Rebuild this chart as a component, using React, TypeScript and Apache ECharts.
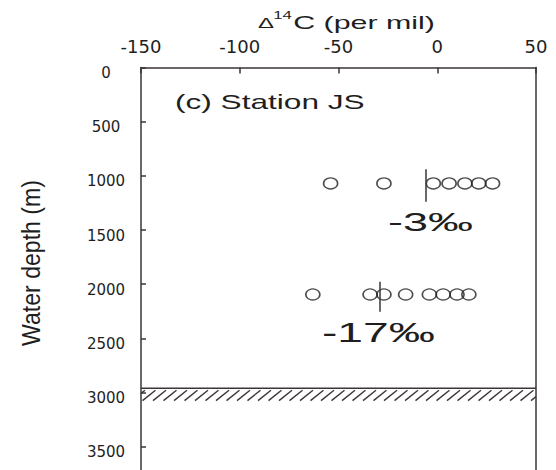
import React, { useEffect, useRef } from "react";
import * as echarts from "echarts";

// Δ14C values (per mil) of the two sampled depths
const row1000Delta = [-54, -27, -2, 6, 14, 21, 28];
const row1000Depth = 1070;
const row2000Delta = [-63, -34, -27, -16, -4, 3, 10, 16];
const row2000Depth = 2095;

// mean markers (vertical bars) and their labels
const meanLineX = [-6, -29];
const meanLineTop = [940, 1978];
const meanLineBottom = [1240, 2255];
const meanLabels = ["-3‰", "-17‰"];

// sea floor band (depth, m)
const seafloorDepth = [2960, 3075];

// axes
const xMin = -150;
const xMax = 50;
const xInterval = 50;
const yMin = 0;
const yMax = 3715;
const yInterval = 500;

const TXT = "#1e1e1e";
const LINE = "#3c3636";
const SANS = "'Liberation Sans', Arial, sans-serif";
const WIDE = "'DejaVu Sans', sans-serif";

export default function App() {
  const ref = useRef<HTMLDivElement>(null);

  useEffect(() => {
    if (!ref.current) return;
    const chart = echarts.init(ref.current, null, { renderer: "svg" });

    const points = [
      ...row1000Delta.map((v) => [v, row1000Depth]),
      ...row2000Delta.map((v) => [v, row2000Depth]),
    ];

    const option: any = {
      animation: false,
      backgroundColor: "#ffffff",
      grid: { left: 141, right: 20, top: 67.5, bottom: 0, containLabel: false },
      xAxis: {
        type: "value",
        position: "top",
        min: xMin,
        max: xMax,
        interval: xInterval,
        splitLine: { show: false },
        axisLine: { show: true, onZero: false, lineStyle: { color: LINE, width: 1.5 } },
        axisTick: { show: true, inside: true, length: 6, lineStyle: { color: LINE, width: 1.5 } },
        axisLabel: { color: TXT, fontFamily: WIDE, fontSize: 18, margin: 12 },
      },
      yAxis: [
        {
          type: "value",
          position: "left",
          inverse: true,
          min: yMin,
          max: yMax,
          interval: yInterval,
          splitLine: { show: false },
          axisLine: { show: true, onZero: false, lineStyle: { color: LINE, width: 1.5 } },
          axisTick: { show: true, inside: true, length: 5, lineStyle: { color: LINE, width: 1.5 } },
          axisLabel: {
            color: TXT,
            fontFamily: WIDE,
            fontSize: 15,
            margin: 35,
            align: "center",
            verticalAlign: "top",
            lineHeight: 11,
            showMaxLabel: false,
            formatter: (v: number) => String(v),
          },
        },
        {
          type: "value",
          position: "right",
          inverse: true,
          min: yMin,
          max: yMax,
          interval: yInterval,
          splitLine: { show: false },
          axisLine: { show: true, onZero: false, lineStyle: { color: LINE, width: 1.5 } },
          axisTick: { show: false },
          axisLabel: { show: false },
        },
      ],
      series: [
        {
          type: "custom",
          coordinateSystem: "cartesian2d",
          silent: true,
          encode: { x: [0, 2], y: [1, 3] },
          data: [[xMin, seafloorDepth[0], xMax, seafloorDepth[1]]],
          renderItem: (params: any, api: any) => {
            const p0 = api.coord([api.value(0), api.value(1)]);
            const p1 = api.coord([api.value(2), api.value(3)]);
            const x0 = p0[0];
            const yt = p0[1];
            const x1 = p1[0];
            const yb = p1[1];
            const top = yt + 2;
            const w = 13;
            const step = 10.5;
            const children: any[] = [
              {
                type: "line",
                shape: { x1: x0, y1: yt, x2: x1, y2: yt },
                style: { stroke: LINE, lineWidth: 1.5 },
              },
            ];
            for (let bx = x0 - w + 4; bx < x1; bx += step) {
              let t0 = 0;
              let t1 = 1;
              if (bx < x0) t0 = (x0 - bx) / w;
              if (bx + w > x1) t1 = (x1 - bx) / w;
              if (t0 >= t1) continue;
              children.push({
                type: "line",
                shape: {
                  x1: bx + w * t0,
                  y1: yb - (yb - top) * t0,
                  x2: bx + w * t1,
                  y2: yb - (yb - top) * t1,
                },
                style: { stroke: LINE, lineWidth: 1.4 },
              });
            }
            return { type: "group", children };
          },
        },
        {
          type: "scatter",
          data: points,
          symbol: "circle",
          symbolSize: [14, 11],
          itemStyle: { color: "rgba(255,255,255,0)", borderColor: "#222", borderWidth: 1.5 },
          markLine: {
            silent: true,
            symbol: ["none", "none"],
            label: { show: false },
            lineStyle: { color: LINE, width: 1.5, type: "solid" },
            data: meanLineX.map((x, i) => [
              { coord: [x, meanLineTop[i]] },
              { coord: [x, meanLineBottom[i]] },
            ]),
          },
        },
      ],
      graphic: [
        {
          type: "group",
          x: 258,
          y: 0,
          scaleX: 1.6,
          children: [
            { type: "text", x: 0, y: 23, style: { text: "Δ", fontFamily: SANS, fontSize: 15, fill: TXT, verticalAlign: "middle" } },
            { type: "text", x: 9.5, y: 15, style: { text: "14", fontFamily: SANS, fontSize: 10.5, fill: TXT, verticalAlign: "middle" } },
            { type: "text", x: 22, y: 22, style: { text: "C (per mil)", fontFamily: SANS, fontSize: 19, fill: TXT, verticalAlign: "middle" } },
          ],
        },
        {
          type: "text",
          x: 31,
          y: 263,
          rotation: Math.PI / 2,
          scaleX: 1.05,
          scaleY: 1.2,
          style: { text: "Water depth (m)", fontFamily: SANS, fontSize: 22, fill: TXT, align: "center", verticalAlign: "middle" },
        },
        {
          type: "text",
          x: 175,
          y: 102,
          scaleX: 1.58,
          style: { text: "(c) Station JS", fontFamily: SANS, fontSize: 20, fill: TXT, verticalAlign: "middle" },
        },
        {
          type: "text",
          x: 388,
          y: 222,
          scaleX: 1.8,
          style: { text: meanLabels[0], fontFamily: SANS, fontSize: 25, fill: TXT, verticalAlign: "middle" },
        },
        {
          type: "text",
          x: 322,
          y: 333,
          scaleX: 1.71,
          style: { text: meanLabels[1], fontFamily: SANS, fontSize: 27, fill: TXT, verticalAlign: "middle" },
        },
      ],
    };

    chart.setOption(option);
    return () => chart.dispose();
  }, []);

  return (
    <div
      ref={ref}
      style={{ position: "fixed", left: 0, top: 0, width: 556, height: 470, background: "#fff" }}
    />
  );
}
